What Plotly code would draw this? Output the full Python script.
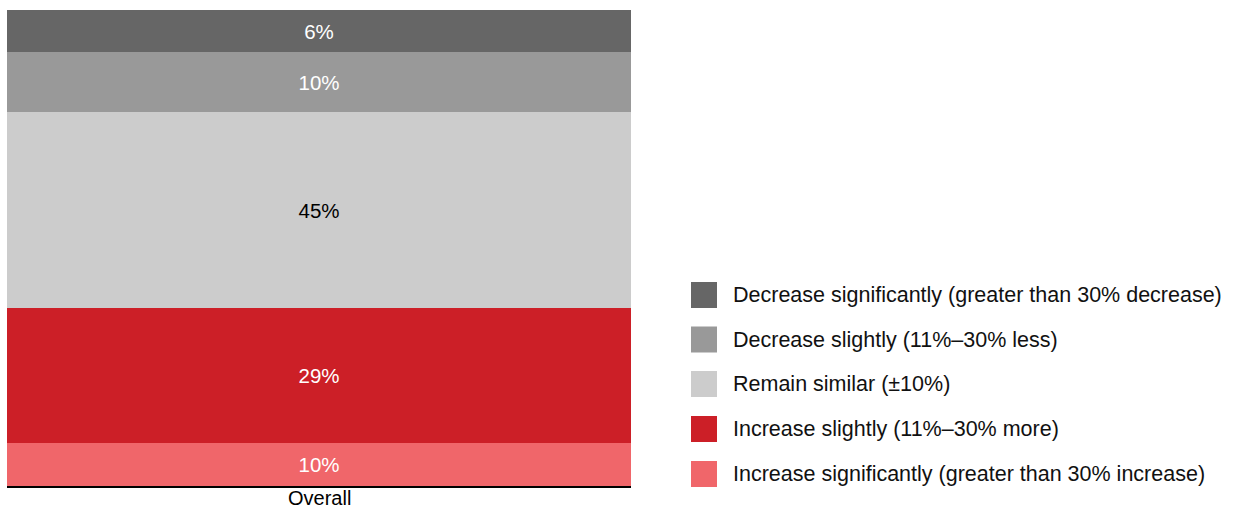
import plotly.graph_objects as go

category = ["Overall"]
# bottom to top
series_names = [
    "Increase significantly (greater than 30% increase)",
    "Increase slightly (11%–30% more)",
    "Remain similar (±10%)",
    "Decrease slightly (11%–30% less)",
    "Decrease significantly (greater than 30% decrease)",
]
# segment shares as drawn (height of each segment)
segment_shares = [9.0, 28.4, 41.2, 12.6, 8.8]
# printed labels
label_texts = ["10%", "29%", "45%", "10%", "6%"]
colors = ["#f0666a", "#cc1f27", "#cccccc", "#999999", "#666666"]
text_colors = ["white", "white", "black", "white", "white"]

FONT = "Liberation Sans, Arial, sans-serif"
W, H = 1233, 512
ml, mr, mt, mb = 7, W - 631, 10, 512 - 486
pw = W - ml - mr
ph = H - mt - mb

fig = go.Figure()
for name, v, t, c, tc in zip(series_names, segment_shares, label_texts, colors, text_colors):
    fig.add_trace(go.Bar(
        x=category, y=[v], name=name, text=[t],
        textposition="inside", insidetextanchor="middle",
        textfont=dict(color=tc, size=20.5, family=FONT),
        marker=dict(color=c, line=dict(width=0)),
        showlegend=False, hoverinfo="skip",
    ))

# custom legend (top to bottom = reversed stacking order)
legend_centers_px = [295, 339.5, 384, 429, 474]
sq_x0, sq_x1, txt_x = 691, 717, 731
half = 13
shapes = []
annotations = []
px2x = lambda px: (px - ml) / pw
py2y = lambda py: (H - mb - py) / ph
for i, idx in enumerate(reversed(range(len(series_names)))):
    cy = legend_centers_px[i]
    shapes.append(dict(type="rect", xref="paper", yref="paper",
                       x0=px2x(sq_x0), x1=px2x(sq_x1),
                       y0=py2y(cy + half), y1=py2y(cy - half),
                       fillcolor=colors[idx], line=dict(width=0)))
    annotations.append(dict(xref="paper", yref="paper", x=px2x(txt_x), y=py2y(cy),
                            xanchor="left", yanchor="middle", showarrow=False,
                            text=series_names[idx],
                            font=dict(size=21.5, color="#111111", family=FONT)))

# category label under the bar
annotations.append(dict(xref="x", yref="paper", x=category[0], y=py2y(498.5),
                        xanchor="center", yanchor="middle", showarrow=False,
                        borderpad=0, text=category[0],
                        font=dict(size=20, color="black", family=FONT)))

fig.update_layout(
    width=W, height=H,
    margin=dict(l=ml, r=mr, t=mt, b=mb),
    barmode="stack", bargap=0,
    plot_bgcolor="white", paper_bgcolor="white",
    shapes=shapes, annotations=annotations,
    uniformtext=dict(mode=False),
    xaxis=dict(showline=True, linecolor="black", linewidth=2, ticks="",
               showticklabels=False,
               showgrid=False, zeroline=False, automargin=False),
    yaxis=dict(visible=False, range=[0, sum(segment_shares)], showgrid=False,
               zeroline=False, automargin=False),
)

fig.write_html("out.html")
